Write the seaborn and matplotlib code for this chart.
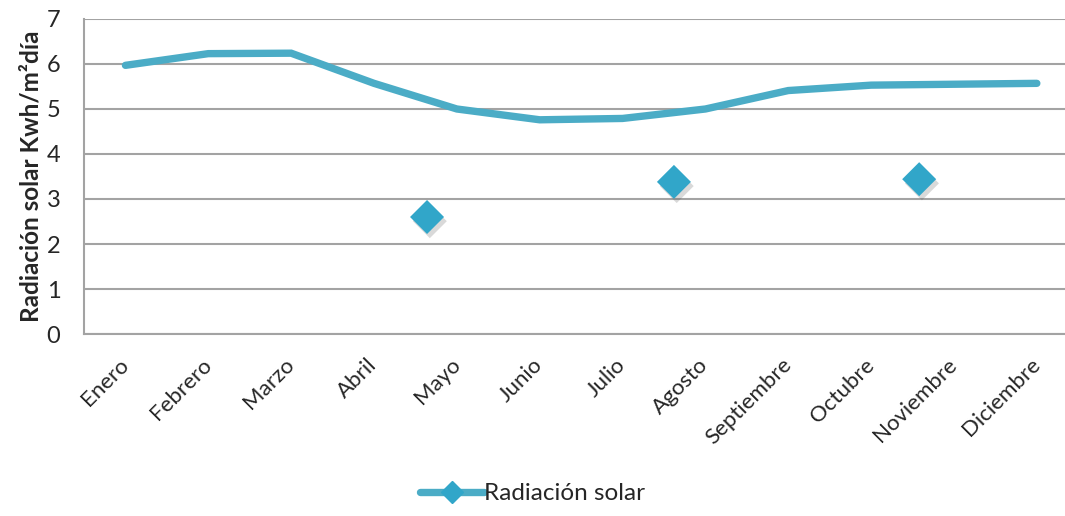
import numpy as np
import matplotlib
matplotlib.use("Agg")
import matplotlib.pyplot as plt
import matplotlib.patheffects as pe
from matplotlib.lines import Line2D
import seaborn as sns

# data
months = ["Enero", "Febrero", "Marzo", "Abril", "Mayo", "Junio", "Julio",
          "Agosto", "Septiembre", "Octubre", "Noviembre", "Diciembre"]
radiation = [5.97, 6.23, 6.24, 5.57, 5.0, 4.76, 4.79, 5.0, 5.41, 5.53, 5.55, 5.57]

# the stray diamond markers (category position, value)
marker_pos = [3.64, 6.62, 9.58]
marker_val = [2.6, 3.38, 3.44]

line_color = "#4BACC6"
marker_color = "#31A6C9"
grid_color = "#A3A3A3"

sns.set_theme(style="white")
plt.rcParams["font.family"] = ["Lato", "DejaVu Sans"]

fig = plt.figure(figsize=(10.65, 5.16), dpi=100)
ax = fig.add_axes([0.0789, 0.3527, 1 - 0.0789, 0.9632 - 0.3527])

x = np.arange(len(months))
sns.lineplot(x=x, y=radiation, ax=ax, color=line_color, linewidth=5.3,
             solid_capstyle="round", solid_joinstyle="miter", legend=False)

sns.scatterplot(x=marker_pos, y=marker_val, ax=ax, marker="D", s=300,
                color=marker_color, edgecolor="none", legend=False, zorder=5)
for coll in ax.collections:
    coll.set_path_effects([pe.SimplePatchShadow(offset=(2, -3), alpha=0.22,
                                                shadow_rgbFace="#555555"),
                           pe.Normal()])

ax.set_ylim(0, 7)
ax.set_yticks(range(0, 8))
ax.set_xlim(-0.5, 11.34)
ax.set_xticks(x)
ax.set_xticklabels(months, rotation=45, ha="right", va="center",
                   rotation_mode="anchor", fontsize=16)
ax.tick_params(axis="x", length=0, pad=20)
ax.tick_params(axis="y", length=0, pad=17, labelsize=17)

ax.yaxis.grid(True, color=grid_color, linewidth=1.5)
ax.set_axisbelow(True)
for side in ["top", "right"]:
    ax.spines[side].set_visible(False)
for side in ["left", "bottom"]:
    ax.spines[side].set_color(grid_color)
    ax.spines[side].set_linewidth(1.5)

ax.set_ylabel("Radiación solar Kwh/m²día", fontsize=17.5, fontweight="bold",
              labelpad=3)

handle = Line2D([0], [0], color=line_color, linewidth=5.3, marker="D",
                markersize=11, markerfacecolor=marker_color,
                markeredgecolor=marker_color, solid_capstyle="round")
fig.legend([handle], ["Radiación solar"], loc="lower center",
           bbox_to_anchor=(0.5, -0.02), frameon=False, fontsize=17.5,
           handlelength=2.6, handletextpad=0.0)

fig.savefig("out.png", dpi=100)
